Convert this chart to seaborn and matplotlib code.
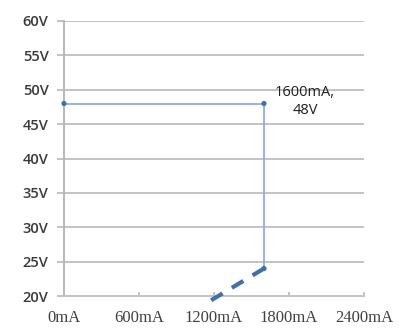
import matplotlib
matplotlib.use("Agg")
import matplotlib.pyplot as plt
import seaborn as sns
import pandas as pd

# Operating envelope: constant-voltage segment then drop at the current limit
current_ma = [0, 1600, 1600]
voltage_v = [48, 48, 24]

# Fold-back continuation below the current limit
foldback_ma = [1600, 1170]
foldback_v = [24, 19.3]

y_ticks = [20, 25, 30, 35, 40, 45, 50, 55, 60]
y_labels = ["20V", "25V", "30V", "35V", "40V", "45V", "50V", "55V", "60V"]
x_ticks = [0, 600, 1200, 1800, 2400]
x_labels = ["0mA", "600mA", "1200mA", "1800mA", "2400mA"]

sns.set_theme(style="white")

fig = plt.figure(figsize=(3.99, 3.28), dpi=100)
ax = fig.add_axes([64 / 399, 1 - 296 / 328, 300 / 399, 275 / 328])

env = pd.DataFrame({"mA": current_ma, "V": voltage_v})
fb = pd.DataFrame({"mA": foldback_ma, "V": foldback_v})

sns.lineplot(data=env, x="mA", y="V", sort=False, estimator=None, ax=ax,
             color="#8eb0dc", linewidth=1.3, zorder=3)
sns.lineplot(data=fb, x="mA", y="V", sort=False, estimator=None, ax=ax,
             color="#3d70b2", linewidth=3.0, linestyle=(0, (3.2, 2.6)),
             zorder=3, clip_on=False)
sns.scatterplot(data=env, x="mA", y="V", ax=ax, color="#3d70b2", s=14,
                edgecolor="none", zorder=4, clip_on=False)

ax.set_xlim(0, 2400)
ax.set_ylim(20, 60)
ax.set_yticks(y_ticks)
ax.set_yticklabels(y_labels)
ax.set_xticks(x_ticks)
ax.set_xticklabels(x_labels)
ax.set_xlabel("")
ax.set_ylabel("")

ax.yaxis.grid(True, color="#c3c3c3", linewidth=1.4)
ax.xaxis.grid(False)
ax.set_axisbelow(True)

for side in ["top", "right"]:
    ax.spines[side].set_visible(False)
ax.spines["left"].set_color("#b8b8b8")
ax.spines["left"].set_linewidth(1.4)
ax.spines["bottom"].set_color("#c3c3c3")
ax.spines["bottom"].set_linewidth(1.4)

ax.tick_params(axis="y", which="major", left=True, length=5, width=1.2,
               color="#b8b8b8", pad=6, labelcolor="#3a3a3a", labelsize=10.5)
ax.tick_params(axis="x", which="major", bottom=True, direction="in",
               length=3, width=1.2, color="#b8b8b8", pad=10,
               labelcolor="#404040", labelsize=12)
for lab in ax.get_yticklabels():
    lab.set_family("Open Sans")
    lab.set_fontweight("semibold")
for lab in ax.get_xticklabels():
    lab.set_family("Liberation Serif")

ax.text(1928, 48.3, "1600mA,\n48V", ha="center", va="center",
        fontsize=10.5, family="Open Sans", color="#202020", linespacing=1.35)

fig.savefig("out.png", dpi=100)
